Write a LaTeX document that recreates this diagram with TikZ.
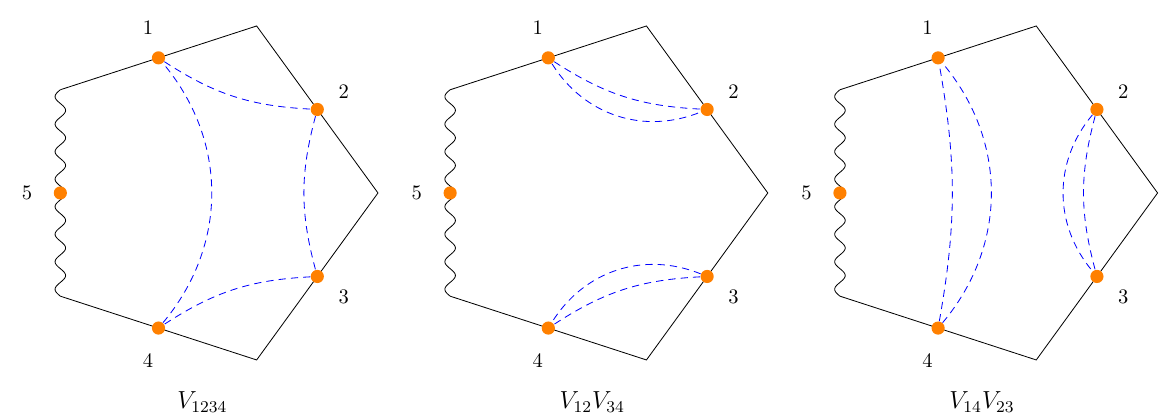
\documentclass[tikz,border=0pt]{standalone}
\usepackage{amsmath,amssymb}
\usetikzlibrary{calc}

\tikzset{
  vdot/.style={circle,fill=orange,inner sep=0pt,minimum size=6.4pt},
  prop/.style={blue,dash pattern=on 3.5pt off 2.5pt},
}

\begin{document}
\begin{tikzpicture}
  \useasboundingbox (-3.458,-3.844) rectangle (16.344,3.297);
  \foreach \p/\s/\cap in {a/0/{V_{1234}},b/6.66/{V_{12}V_{34}},c/13.32/{V_{14}V_{23}}} {
    \begin{scope}[xshift=\s cm]
      \path (0:3) coordinate (\p r) (72:3) coordinate (\p t) (144:3) coordinate (\p tl)
            (216:3) coordinate (\p bl) (288:3) coordinate (\p b);
      \draw (\p tl) -- (\p t) -- (\p r) -- (\p b) -- (\p bl);
      % wavy left side, 7.5 periods
      \draw[domain=0:3.527,samples=200,smooth,variable=\y]
        plot ({-2.427-0.09*sin(\y/0.47027*360)},{-1.7634+\y});
      \node[vdot] (\p1) at ($(\p tl)!0.5!(\p t)$) {};
      \node[vdot] (\p2) at ($(\p t)!0.5!(\p r)$) {};
      \node[vdot] (\p3) at ($(\p r)!0.5!(\p b)$) {};
      \node[vdot] (\p4) at ($(\p b)!0.5!(\p bl)$) {};
      \node[vdot] (\p5) at ($(\p bl)!0.5!(\p tl)$) {};
      \node at ($(\p1)+(-0.18,0.51)$) {1};
      \node at ($(\p2)+(0.45,0.30)$) {2};
      \node at ($(\p3)+(0.45,-0.35)$) {3};
      \node at ($(\p4)+(-0.18,-0.56)$) {4};
      \node at ($(\p5)+(-0.57,0)$) {5};
      \node at (0,-3.57) {\large $\cap$};
    \end{scope}
  }
  % V_1234
  \draw[prop] (a1) to[bend right=15] (a2);
  \draw[prop] (a2) to[bend right=15] (a3);
  \draw[prop] (a3) to[bend right=15] (a4);
  \draw[prop] (a4) to[bend right=40] (a1);
  % V_12 V_34
  \draw[prop] (b1) to[bend right=15] (b2);
  \draw[prop] (b1) to[bend right=40] (b2);
  \draw[prop] (b3) to[bend right=15] (b4);
  \draw[prop] (b3) to[bend right=40] (b4);
  % V_14 V_23
  \draw[prop] (c4) to[bend right=10] (c1);
  \draw[prop] (c4) to[bend right=40] (c1);
  \draw[prop] (c2) to[bend right=15] (c3);
  \draw[prop] (c2) to[bend right=40] (c3);
\end{tikzpicture}
\end{document}
